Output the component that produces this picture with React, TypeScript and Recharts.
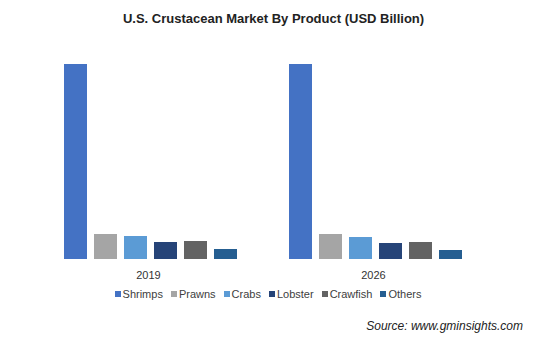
import React from 'react';
import { BarChart, Bar, XAxis, YAxis } from 'recharts';

// values in USD billion (relative heights)
const years = ['2019', '2026'];
const shrimps = [19.5, 19.5];
const prawns = [2.5, 2.5];
const crabs = [2.3, 2.2];
const lobster = [1.7, 1.6];
const crawfish = [1.8, 1.7];
const others = [1.0, 0.9];

const products = [
  { key: 'Shrimps', values: shrimps, color: '#4472C4' },
  { key: 'Prawns', values: prawns, color: '#A5A5A5' },
  { key: 'Crabs', values: crabs, color: '#5B9BD5' },
  { key: 'Lobster', values: lobster, color: '#264478' },
  { key: 'Crawfish', values: crawfish, color: '#636363' },
  { key: 'Others', values: others, color: '#255E91' },
];

const data = years.map((year, i) => {
  const row: Record<string, string | number> = { year };
  products.forEach((p) => {
    row[p.key] = p.values[i];
  });
  return row;
});

const font = '"Liberation Sans", Arial, sans-serif';

export default function App() {
  return (
    <div style={{ position: 'absolute', left: 0, top: 0, width: 543, height: 350, background: '#fff' }}>
      <div
        style={{
          position: 'absolute',
          top: 11,
          left: 2,
          width: 543,
          textAlign: 'center',
          fontFamily: font,
          fontWeight: 'bold',
          fontSize: 13,
          color: '#222',
        }}
      >
        U.S. Crustacean Market By Product (USD Billion)
      </div>
      <BarChart
        width={543}
        height={350}
        data={data}
        margin={{ top: 59, right: 55, left: 38, bottom: 61 }}
        barGap={7}
        barSize={23}
      >
        <XAxis
          dataKey="year"
          height={30}
          axisLine={false}
          tickLine={false}
          tick={{ fill: '#333', fontSize: 11, fontFamily: font, dx: -2, dy: 4 }}
        />
        <YAxis hide domain={[0, 20]} />
        {products.map((p) => (
          <Bar key={p.key} dataKey={p.key} fill={p.color} isAnimationActive={false} />
        ))}
      </BarChart>
      {/* legend */}
      <div
        style={{
          position: 'absolute',
          top: 288,
          left: 0,
          width: 536,
          display: 'flex',
          justifyContent: 'center',
          gap: 8,
          fontFamily: font,
          fontSize: 11,
          color: '#404040',
        }}
      >
        {products.map((p) => (
          <div key={p.key} style={{ display: 'flex', alignItems: 'center' }}>
            <span style={{ width: 6, height: 6, background: p.color, marginRight: 2, display: 'inline-block' }} />
            <span>{p.key}</span>
          </div>
        ))}
      </div>
      <div
        style={{
          position: 'absolute',
          top: 319,
          right: 20,
          fontFamily: font,
          fontStyle: 'italic',
          fontSize: 12,
          color: '#222',
        }}
      >
        Source: www.gminsights.com
      </div>
    </div>
  );
}
